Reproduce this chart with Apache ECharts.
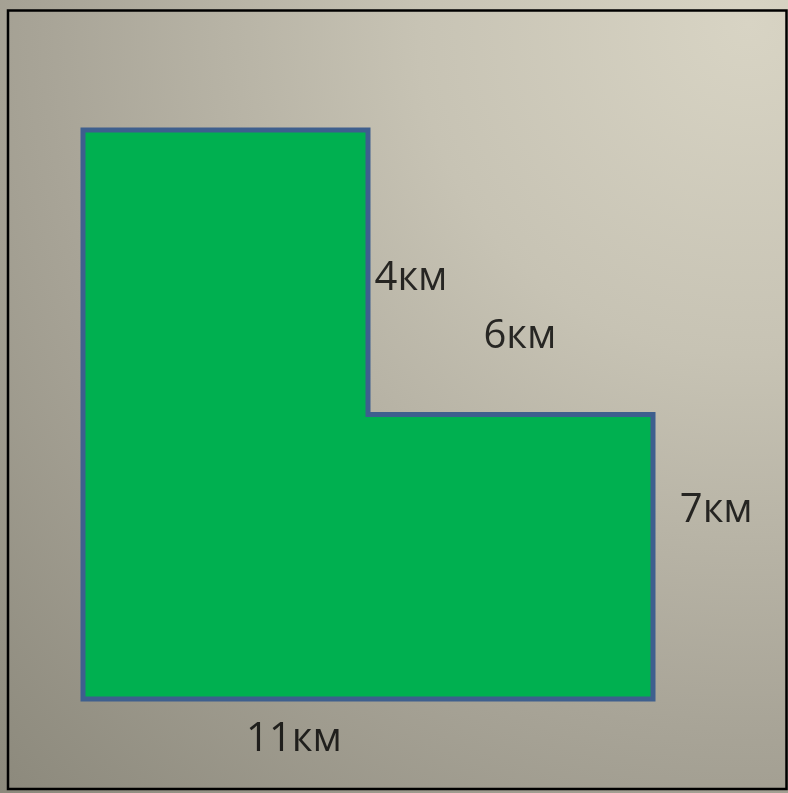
<!DOCTYPE html>
<html>
<head>
<meta charset="utf-8">
<script src="https://cdn.jsdelivr.net/npm/echarts@6/dist/echarts.min.js"></script>
<style>
  html, body { margin: 0; padding: 0; }
  #chart { width: 788px; height: 793px; }
</style>
</head>
<body>
<div id="chart"></div>
<script>
// L-shaped plot outline (km units, origin bottom-left)
const shapeX = [0, 11, 11, 5.5, 5.5, 0];
const shapeY = [0, 0, 5.5, 5.5, 11, 11];

// Dimension labels
const labelTexts = ['4км', '6км', '7км', '11км'];
const labelX = [6.33, 8.43, 12.22, 4.07];
const labelY = [8.12, 7.0, 3.65, -0.79];

const chart = echarts.init(document.getElementById('chart'));

const option = {
  animation: false,
  backgroundColor: {
    type: 'radial', x: 0.95, y: 0.03, r: 1.4,
    colorStops: [
      { offset: 0, color: '#d8d4c4' },
      { offset: 0.3, color: '#c7c3b4' },
      { offset: 0.64, color: '#a8a497' },
      { offset: 0.96, color: '#8d8a7d' },
      { offset: 1, color: '#8a877a' }
    ]
  },
  graphic: [{
    type: 'rect',
    shape: { x: 8, y: 10.5, width: 778.5, height: 778.5 },
    style: { fill: 'none', stroke: '#000', lineWidth: 2.5 },
    silent: true
  }],
  grid: { left: 83, top: 130, width: 570, height: 569 },
  xAxis: { type: 'value', min: 0, max: 11, show: false },
  yAxis: { type: 'value', min: 0, max: 11, show: false },
  series: [
    {
      type: 'custom',
      clip: false,
      data: shapeX.map((x, i) => [x, shapeY[i]]),
      encode: { x: 0, y: 1 },
      renderItem: function (params, api) {
        if (params.dataIndex !== 0) return;
        const pts = shapeX.map((x, i) => api.coord([x, shapeY[i]]));
        return {
          type: 'polygon',
          shape: { points: pts },
          style: { fill: '#00b050', stroke: '#3e5f8e', lineWidth: 5, lineJoin: 'miter' }
        };
      }
    },
    {
      type: 'scatter',
      clip: false,
      symbolSize: 0,
      silent: true,
      data: labelTexts.map((t, i) => ({ value: [labelX[i], labelY[i]], name: t })),
      label: {
        show: true,
        position: 'inside',
        formatter: p => p.name,
        fontFamily: 'Open Sans',
        fontSize: 40,
        color: '#000',
        align: 'center',
        verticalAlign: 'middle'
      }
    }
  ]
};
chart.setOption(option);
</script>
</body>
</html>
